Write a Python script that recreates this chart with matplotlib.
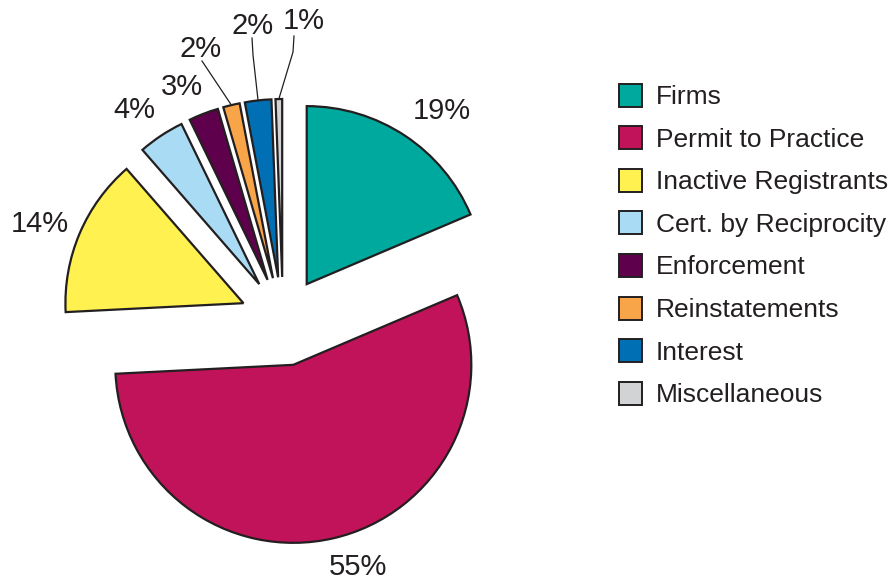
import numpy as np
import matplotlib
matplotlib.use("Agg")
import matplotlib.pyplot as plt
from matplotlib.patches import Rectangle

# ---- data ----
categories = ["Firms", "Permit to Practice", "Inactive Registrants", "Cert. by Reciprocity",
              "Enforcement", "Reinstatements", "Interest", "Miscellaneous"]
values = [18.6, 55.6, 14.4, 4.2, 2.7, 1.5, 2.4, 0.6]
pct_labels = ["19%", "55%", "14%", "4%", "3%", "2%", "2%", "1%"]
colors = ["#00A99D", "#C1135A", "#FFF14F", "#A9DBF4", "#5E004B", "#F8A54A", "#006FB4", "#D1D3D4"]

# ---- layout (pixel coordinates, y measured from top) ----
W, H = 893, 580
pie_center = (283, 320)
pie_radius = 178
explode = [43, 46, 43, 43, 43, 43, 43, 43]
label_pos = [(442, 111), (358, 567), (40, 224), (134, 110), (182, 87), (201, 49), (253, 26), (304, 21)]
leader_elbow = [None, None, None, None, None, None, (253, 55), (293, 52)]
leader_start = [None, None, None, None, None, (202, 61), (252, 38), (294, 36)]
text_color = "#231F20"
font = "Liberation Sans"

fig = plt.figure(figsize=(W / 100, H / 100), dpi=100)
ax = fig.add_axes([0, 0, 1, 1])

def up(p):
    return (p[0], H - p[1])

wedges, _ = ax.pie(values, colors=colors, startangle=90, counterclock=False,
                   radius=pie_radius, center=up(pie_center), explode=explode,
                   wedgeprops=dict(edgecolor=text_color, linewidth=1.6, joinstyle="miter"),
                   frame=True)
ax.set_xlim(0, W)
ax.set_ylim(0, H)
ax.set_aspect("equal")
ax.axis("off")

for i, (w, lab) in enumerate(zip(wedges, pct_labels)):
    x, y = up(label_pos[i])
    ax.text(x, y, lab, ha="center", va="center", fontsize=21, color=text_color, family=font)
    if leader_start[i] is not None:
        mid = np.deg2rad((w.theta1 + w.theta2) / 2)
        ex = w.center[0] + w.r * np.cos(mid)
        ey = w.center[1] + w.r * np.sin(mid)
        pts = [up(leader_start[i])]
        if leader_elbow[i] is not None:
            pts.append(up(leader_elbow[i]))
        pts.append((ex, ey))
        xs, ys = zip(*pts)
        ax.plot(xs, ys, color=text_color, lw=0.9)

# legend drawn manually
leg_x, leg_y0, leg_dy, box = 619, 95, 42.6, 23
for i, (name, c) in enumerate(zip(categories, colors)):
    yc = H - (leg_y0 + i * leg_dy)
    ax.add_patch(Rectangle((leg_x, yc - box / 2), box, box, facecolor=c,
                           edgecolor=text_color, linewidth=1.4))
    ax.text(leg_x + 37, yc - 2, name, ha="left", va="center", fontsize=19,
            color=text_color, family=font)

fig.savefig("out.png", dpi=100)
